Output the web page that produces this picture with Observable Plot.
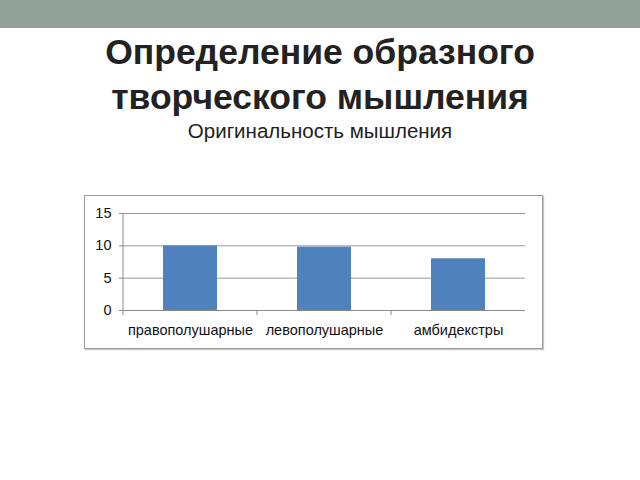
<!DOCTYPE html>
<html>
<head>
<meta charset="utf-8">
<script src="https://cdn.jsdelivr.net/npm/d3@7"></script>
<script src="https://cdn.jsdelivr.net/npm/@observablehq/plot@0.6"></script>
<style>
  html, body { margin: 0; padding: 0; background: #fff; width: 640px; height: 480px; overflow: hidden; font-family: "Liberation Sans", Arial, sans-serif; }
  #band { position: absolute; left: 0; top: 0; width: 640px; height: 28px; background: #92A199; }
  #title { position: absolute; left: 0; top: 30px; width: 640px; text-align: center; font-weight: bold; font-size: 35.5px; line-height: 45px; color: #222; }
  #subtitle { position: absolute; left: 0; top: 118px; width: 640px; text-align: center; font-size: 20.5px; line-height: 26px; color: #222; }
  #chart { position: absolute; left: 84px; top: 195px; width: 457px; height: 152px; border: 1px solid #9a9a9a; box-shadow: 1px 1px 1px #c8c8c8; background: #fff; }
  #chart svg { display: block; }
</style>
</head>
<body>
<div id="band"></div>
<div id="title">Определение образного<br>творческого мышления</div>
<div id="subtitle">Оригинальность мышления</div>
<div id="chart"></div>
<script>
const categories = ["правополушарные", "левополушарные", "амбидекстры"];
const values = [10, 9.8, 8];
const yTicks = [0, 5, 10, 15];

const data = categories.map((c, i) => ({category: c, value: values[i]}));

const chart = Plot.plot({
  width: 457,
  height: 152,
  marginLeft: 38,
  marginRight: 17,
  marginTop: 17,
  marginBottom: 38,
  style: {fontFamily: "'Liberation Sans', Arial, sans-serif", fontSize: "14.5px", color: "#000", background: "#fff", overflow: "visible"},
  x: {domain: categories, paddingInner: 0.6, paddingOuter: 0.3, label: null},
  y: {domain: [0, 15], ticks: yTicks, label: null},
  marks: [
    Plot.gridY(yTicks.filter(t => t > 0), {stroke: "#9a9a9a", strokeOpacity: 1, strokeWidth: 1}),
    Plot.barY(data, {x: "category", y: "value", fill: "#4F81BD"}),
    Plot.ruleY([0], {stroke: "#8a8a8a"}),
    Plot.axisY({ticks: yTicks, tickSize: 4, tickPadding: 8, stroke: "#8a8a8a", fontSize: 14.5, fill: "#111"}),
    Plot.axisX({tickSize: 0, tickPadding: 14, fontSize: 14.5, fill: "#111"})
  ]
});
document.getElementById("chart").appendChild(chart);

// y-axis line and category-boundary ticks, from the library's scales
const xs = chart.scale("x");
const ys = chart.scale("y");
const svg = d3.select(chart);
const y0 = ys.apply(0);
const gap = (xs.step - xs.bandwidth) / 2;
const left = xs.apply(categories[0]) - gap;
svg.append("line").attr("x1", left).attr("x2", left)
  .attr("y1", ys.apply(15)).attr("y2", y0 + 5).attr("stroke", "#8a8a8a");
categories.slice(1).forEach(c => {
  const bx = xs.apply(c) - gap;
  svg.append("line").attr("x1", bx).attr("x2", bx)
    .attr("y1", y0).attr("y2", y0 + 5).attr("stroke", "#8a8a8a");
});
</script>
</body>
</html>
